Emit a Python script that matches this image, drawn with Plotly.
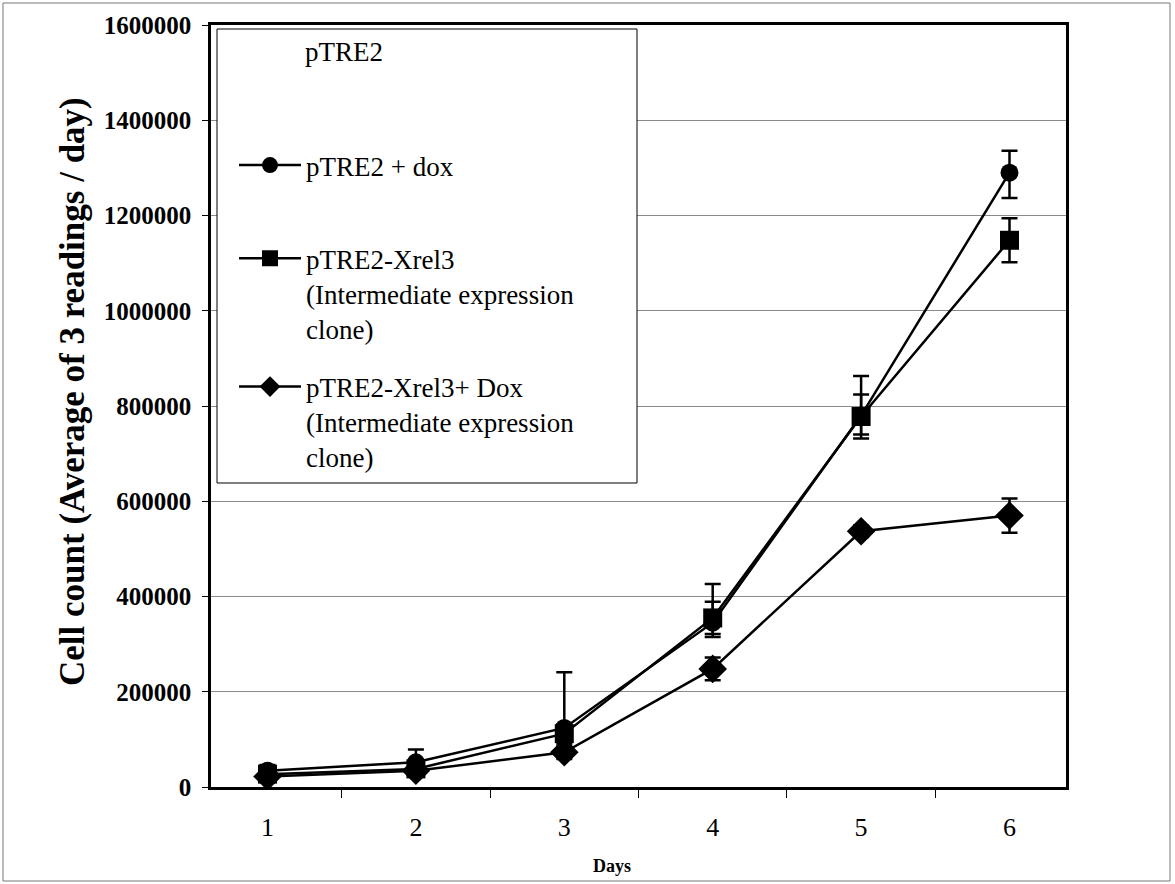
import plotly.graph_objects as go

days = ["1", "2", "3", "4", "5", "6"]

dox_vals = [34000, 52000, 124000, 345000, 780000, 1290000]
dox_err_plus = [12000, 27000, 117000, 81000, 83000, 46000]
dox_err_minus = [12000, 20000, 40000, 30000, 40000, 53000]

xrel_vals = [27000, 38000, 112000, 355000, 778000, 1148000]
xrel_err = [6000, 8000, 20000, 34000, 46000, 46000]

xreldox_vals = [22000, 34000, 73000, 248000, 537000, 570000]
xreldox_err = [5000, 6000, 14000, 24000, 12000, 36000]

y_ticks = [0, 200000, 400000, 600000, 800000, 1000000, 1200000, 1400000, 1600000]

name_dox = "pTRE2 + dox<br>\u00a0"
name_xrel = "pTRE2-Xrel3<br>(Intermediate expression<br>clone)"
name_xreldox = "pTRE2-Xrel3+ Dox<br>(Intermediate expression<br>clone)"

SERIF = "Liberation Serif, Times New Roman, serif"
LEG_SIZE = 27

L, R, T, B = 211, 109, 25, 97
W, H = 1175, 884
PW, PH = W - L - R, H - T - B


def px_x(p):
    return (p - L) / PW


def px_y(p):
    return (H - B - p) / PH


fig = go.Figure()

fig.add_trace(go.Scatter(
    x=days, y=dox_vals, name=name_dox, legendgroup="a", legendrank=1,
    mode="lines+markers",
    line=dict(color="black", width=2.5),
    marker=dict(symbol="circle", size=18, color="black"),
    error_y=dict(type="data", array=dox_err_plus, arrayminus=dox_err_minus,
                 color="black", thickness=2.5, width=8),
))
fig.add_trace(go.Scatter(
    x=days, y=xreldox_vals, name=name_xreldox, legendgroup="c", legendrank=3,
    mode="lines+markers",
    line=dict(color="black", width=2.5),
    marker=dict(symbol="diamond", size=22, color="black"),
    error_y=dict(type="data", array=xreldox_err, color="black", thickness=2.5, width=8),
))
fig.add_trace(go.Scatter(
    x=days, y=xrel_vals, name=name_xrel, legendgroup="b", legendrank=2,
    mode="lines+markers",
    line=dict(color="black", width=2.5),
    marker=dict(symbol="square", size=19, color="black"),
    error_y=dict(type="data", array=xrel_err, color="black", thickness=2.5, width=8),
))

fig.update_layout(
    width=W, height=H,
    margin=dict(l=L, r=R, t=T, b=B, autoexpand=False),
    paper_bgcolor="white", plot_bgcolor="white",
    font=dict(family=SERIF, color="black"),
    showlegend=True,
    legend=dict(
        x=px_x(234), y=px_y(141), xanchor="left", yanchor="top",
        font=dict(family=SERIF, size=LEG_SIZE, color="black"),
        bgcolor="rgba(0,0,0,0)", borderwidth=0,
        valign="top", tracegroupgap=20, itemwidth=62,
        traceorder="grouped",
    ),
    xaxis=dict(
        type="category", tickson="boundaries",
        ticks="outside", ticklen=8, tickcolor="black", tickwidth=1,
        showline=True, linecolor="black", linewidth=2.5, mirror=True,
        showgrid=False, zeroline=False,
        tickfont=dict(family=SERIF, size=26, color="black"),
        ticklabelstandoff=15,
    ),
    yaxis=dict(
        range=[0, 1600000], tickvals=y_ticks, tickformat="d",
        ticks="outside", ticklen=6, tickcolor="black", tickwidth=1,
        showline=True, linecolor="black", linewidth=2.5, mirror=True,
        showgrid=True, gridcolor="#8a8a8a", gridwidth=1, zeroline=False,
        tickfont=dict(family=SERIF, size=25, color="black", weight="bold"),
        ticklabelstandoff=6,
    ),
    shapes=[
        dict(type="rect", xref="paper", yref="paper",
             x0=px_x(3), x1=px_x(1170), y0=px_y(881), y1=px_y(3),
             line=dict(color="#777777", width=1), fillcolor="rgba(0,0,0,0)", layer="below"),
        dict(type="rect", xref="paper", yref="paper",
             x0=px_x(217), x1=px_x(637), y0=px_y(483), y1=px_y(29),
             line=dict(color="black", width=1), fillcolor="white", layer="above"),
    ],
    annotations=[
        dict(text="pTRE2", xref="paper", yref="paper", x=px_x(303), y=px_y(52),
             xanchor="left", yanchor="middle", showarrow=False,
             font=dict(family=SERIF, size=LEG_SIZE, color="black")),
        dict(text="Days", xref="paper", yref="paper", x=px_x(612), y=px_y(866),
             xanchor="center", yanchor="middle", showarrow=False,
             font=dict(family=SERIF, size=18, color="black", weight="bold")),
        dict(text="Cell count (Average of 3 readings / day)", xref="paper", yref="paper",
             x=px_x(73), y=px_y(392), xanchor="center", yanchor="middle",
             textangle=-90, showarrow=False,
             font=dict(family=SERIF, size=35, color="black", weight="bold")),
    ],
)

fig.write_html("out.html")
